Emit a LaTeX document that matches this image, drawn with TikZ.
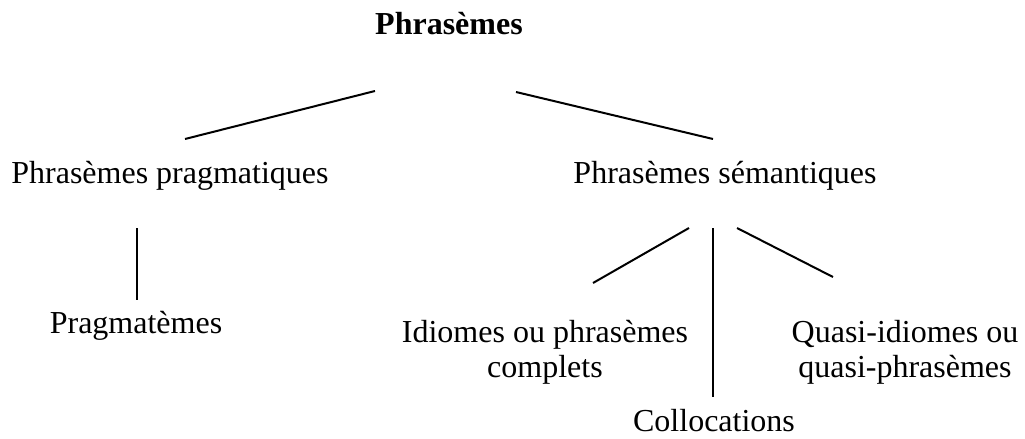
\documentclass[tikz,border=0pt]{standalone}
\usepackage{fontspec}
\setmainfont{Liberation Serif}
\tikzset{
  branch/.style={line width=.75pt},
  label/.style={font=\fontsize{12}{13.1}\selectfont, inner sep=0pt, anchor=base, align=center}
}
\begin{document}
\begin{tikzpicture}[x=.375pt, y=-.375pt]
\useasboundingbox (0,0) rectangle (1025,439);
% texts
\node[label] (root) at (449,35) {\textbf{Phrasèmes}};
\node[label] (prag) at (170,183) {Phrasèmes pragmatiques};
\node[label] (sem) at (725,183) {Phrasèmes sémantiques};
\node[label] (pragm) at (136,333) {Pragmatèmes};
\node[label] (idiom) at (545,377) {Idiomes ou phrasèmes\\complets};
\node[label] (quasi) at (905,377) {Quasi-idiomes ou\\quasi-phrasèmes};
\node[label] (colloc) at (714,431) {Collocations};
% ends of the lines
\coordinate (rootL) at (375,91);
\coordinate (rootR) at (516,92);
\coordinate (pragT) at (185,139);
\coordinate (semT) at (713,139);
\coordinate (pragB) at (137,228);
\coordinate (pragmT) at (137,300);
\coordinate (semL) at (689,228);
\coordinate (semM) at (713,228);
\coordinate (semR) at (737,228);
\coordinate (idiomT) at (593,283);
\coordinate (collocT) at (713,397);
\coordinate (quasiT) at (833,277);
\draw[branch] (rootL) -- (pragT);
\draw[branch] (rootR) -- (semT);
\draw[branch] (pragB) -- (pragmT);
\draw[branch] (semL) -- (idiomT);
\draw[branch] (semM) -- (collocT);
\draw[branch] (semR) -- (quasiT);
\end{tikzpicture}
\end{document}
